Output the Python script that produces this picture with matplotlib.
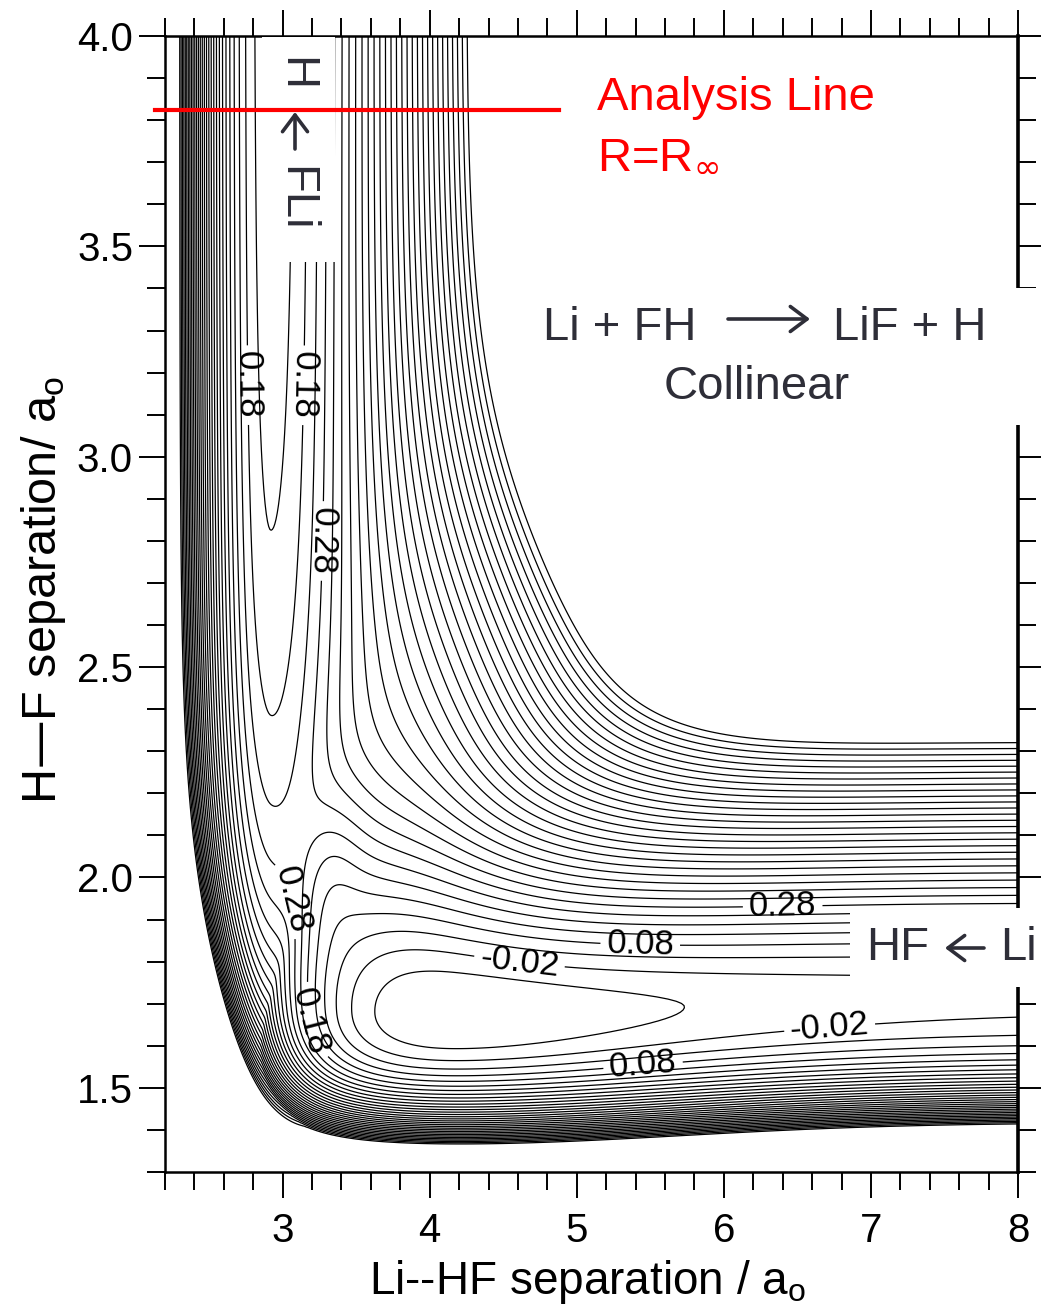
import numpy as np
import matplotlib.pyplot as plt
from matplotlib.patches import Rectangle
from matplotlib.ticker import FormatStrFormatter

W, H = 1041, 1310
FONT = ['Liberation Sans', 'DejaVu Sans']
INK = '#2e2e38'
plt.rcParams['font.family'] = FONT

# axes
x_lim = (2.2, 8.0)
y_lim = (1.3, 4.0)
x_ticks = [3, 4, 5, 6, 7, 8]
y_ticks = [1.5, 2.0, 2.5, 3.0, 3.5, 4.0]

# contour levels (eV): one every 0.05 from the well to the plateau edge
level_lo, level_hi, level_step = -0.07, 1.53, 0.05
label_levels = [-0.02, 0.08, 0.18, 0.28]
label_x = [4.60, 6.72, 5.43, 5.45, 6.40, 2.73, 3.12, 3.25, 2.90, 3.22]
label_y = [1.77, 1.64, 1.82, 1.556, 1.93, 3.17, 3.17, 2.80, 1.94, 1.66]

# analysis line R = R_inf
analysis_y = 3.824
analysis_x = (2.13, 4.88)

# model surface, parameters estimated from the drawn contours
# Li + HF arm: H-F stretch (soft outer Morse, hard inner wall) + Li approach profile
hf_De, hf_a_out, hf_in_D, hf_in_a = 6.12, 1.17, 0.48, 3.4
hf_soft, hf_soft_x, hf_soft_w = 0.4, 3.1, 1.2
hf_re, hf_re_dip, hf_dip_x, hf_dip_w = 1.72, 0.045, 4.2, 2.2
well_floor, well_asym, well_x, well_b_in, well_b_out = -0.12, -0.03, 4.16, 1.0, 0.87
# LiF + H arm: Li-F Morse stretch + H repulsion + hard H-F wall
lif_E, lif_De, lif_re, lif_a_in, lif_a_out = 0.095, 5.97, 2.92, 0.643, 0.506
hrep_A, hrep_b, hrep_y0 = 0.165, 1.9, 2.0
hwall_A, hwall_b, hwall_y0 = 1.5, 8.0, 1.3
# coupling of the two arms (seam near the barrier, corner of the plateau)
seam_h, seam_x, seam_y, seam_wx, seam_wy = 0.17, 3.3, 2.0, 0.30, 0.25
corner_h, corner_p, corner_lu, corner_lw = 17.0, 2.0, 2.5, 1.4
# Li-H short range wall
lih_A, lih_b, lih_s0 = 0.5, 5.0, 4.4


def morse(d, De, a_in, a_out):
    a = np.where(d < 0, a_in, a_out)
    return De * (1 - np.exp(-a * d)) ** 2


xg = np.linspace(x_lim[0], x_lim[1], 700)
yg = np.linspace(y_lim[0], y_lim[1], 520)
X, Y = np.meshgrid(xg, yg)

yc = hf_re - hf_re_dip * np.exp(-((X - hf_dip_x) / hf_dip_w) ** 2)
dy = Y - yc
a_str = hf_a_out * (1 - hf_soft * np.exp(-((X - hf_soft_x) / hf_soft_w) ** 2))
hf = np.where(dy < 0, hf_in_D * (np.exp(-hf_in_a * dy) - 1) ** 2,
              hf_De * (1 - np.exp(-a_str * dy)) ** 2)
bw = np.where(X < well_x, well_b_in, well_b_out)
ev = well_asym + (well_asym - well_floor) * ((1 - np.exp(-bw * (X - well_x))) ** 2 - 1)
v1 = hf + ev
v2 = lif_E + morse(X - lif_re, lif_De, lif_a_in, lif_a_out) \
    + hrep_A * np.exp(-hrep_b * (Y - hrep_y0)) + hwall_A * np.exp(-hwall_b * (Y - hwall_y0))

u = np.clip(X - lif_re, 0, None)
w = np.clip(dy, 0, None)
z1 = 1 - np.exp(-hf_a_out * w)
z2 = 1 - np.exp(-lif_a_out * u)
h12 = seam_h * np.exp(-((X - seam_x) / seam_wx) ** 2 - ((Y - seam_y) / seam_wy) ** 2) \
    + corner_h * (z1 * z2) ** corner_p * np.exp(-(u / corner_lu) ** 2 - (w / corner_lw) ** 2)
V = 0.5 * (v1 + v2) - np.sqrt((0.5 * (v1 - v2)) ** 2 + h12 ** 2)
V = V + lih_A * np.exp(-lih_b * (X + Y - lih_s0))

levels = np.round(np.arange(level_lo, level_hi + 1e-6, level_step), 2)
is_lab = np.array([np.min(np.abs(np.array(label_levels) - lv)) < 1e-6 for lv in levels])

fig = plt.figure(figsize=(W / 100, H / 100), dpi=100)
ax = fig.add_axes([165 / W, 1 - 1172 / H, (1018 - 165) / W, (1172 - 36) / H])

ax.contour(X, Y, V, levels=levels[~is_lab], colors='black', linewidths=0.9,
           negative_linestyles='solid')
cs_lab = ax.contour(X, Y, V, levels=levels[is_lab], colors='black', linewidths=0.9,
                    negative_linestyles='solid')
labs = ax.clabel(cs_lab, manual=list(zip(label_x, label_y)),
                 inline=True, inline_spacing=6, fmt='%.2f', fontsize=25)
for t in labs:
    r = t.get_rotation() % 360
    if 60 < r < 120:
        t.set_rotation(r - 180)

ax.set_xlim(*x_lim)
ax.set_ylim(*y_lim)
ax.set_xticks(x_ticks)
ax.set_xticks(np.arange(2.2, 8.01, 0.2), minor=True)
ax.set_yticks(y_ticks)
ax.set_yticks(np.arange(1.3, 4.01, 0.1), minor=True)
ax.xaxis.set_major_formatter(FormatStrFormatter('%d'))
ax.yaxis.set_major_formatter(FormatStrFormatter('%.1f'))
ax.tick_params(which='both', direction='out', top=True, right=True, width=1.4,
               labelsize=29, colors='black')
ax.tick_params(which='major', length=19, pad=4)
ax.tick_params(axis='x', which='major', pad=10)
ax.tick_params(which='minor', length=13)
for s in ax.spines.values():
    s.set_linewidth(1.8)
ax.spines['right'].set_linewidth(2.6)


def fx(px):
    return px / W


def fy(py):
    return 1 - py / H


# white boxes behind the overlay labels (they hide contours, spine and ticks)
for x0, y0, x1, y1 in [(262, 37, 335, 262), (525, 288, 1041, 425), (850, 908, 1041, 987)]:
    ax.add_patch(Rectangle((fx(x0), fy(y1)), fx(x1) - fx(x0), fy(y0) - fy(y1),
                           transform=fig.transFigure, facecolor='white',
                           edgecolor='none', zorder=3, clip_on=False))

# red analysis line, above the boxes
ax.plot(analysis_x, [analysis_y, analysis_y], color='red', lw=3, clip_on=False, zorder=4)


def arrow(x0, y0, x1, y1, scale=30):
    fig.add_artist(plt.Annotation('', xy=(fx(x1), fy(y1)), xytext=(fx(x0), fy(y0)),
                                  xycoords='figure fraction', textcoords='figure fraction',
                                  arrowprops=dict(arrowstyle='->,head_length=0.4,head_width=0.3',
                                                  mutation_scale=scale, lw=2.6, color=INK,
                                                  shrinkA=0, shrinkB=0)))


# exit-channel label, written downwards
fig.text(fx(295), fy(74), 'H', rotation=-90, ha='center', va='center', fontsize=34, color=INK)
arrow(295, 149, 295, 112)
fig.text(fx(295), fy(199), 'FLi', rotation=-90, ha='center', va='center', fontsize=34, color=INK)

# entrance-channel label
fig.text(fx(866), fy(948), 'HF', ha='left', va='center', fontsize=34, color=INK)
arrow(984, 948, 945, 948)
fig.text(fx(1000), fy(948), 'Li', ha='left', va='center', fontsize=34, color=INK)

fig.text(fx(543), fy(328), 'Li + FH', ha='left', va='center', fontsize=34, color=INK)
fig.text(fx(833), fy(328), 'LiF + H', ha='left', va='center', fontsize=34, color=INK)
fig.text(fx(757), fy(387), 'Collinear', ha='center', va='center', fontsize=34, color=INK)
arrow(728, 319, 810, 319)

fig.text(fx(597), fy(98), 'Analysis Line', ha='left', va='center', fontsize=34, color='red')
fig.text(fx(597), fy(155), 'R=R$_{\\infty}$', ha='left', va='center', fontsize=34, color='red')

fig.text(fx(588), fy(1282), 'Li--HF separation / a$_\\mathregular{o}$', ha='center', va='center',
         fontsize=33)
fig.text(fx(44), fy(590), 'H\u2014F separation/ a$_\\mathregular{o}$', ha='center', va='center',
         rotation=90, fontsize=35)

fig.savefig('out.png', dpi=100)
